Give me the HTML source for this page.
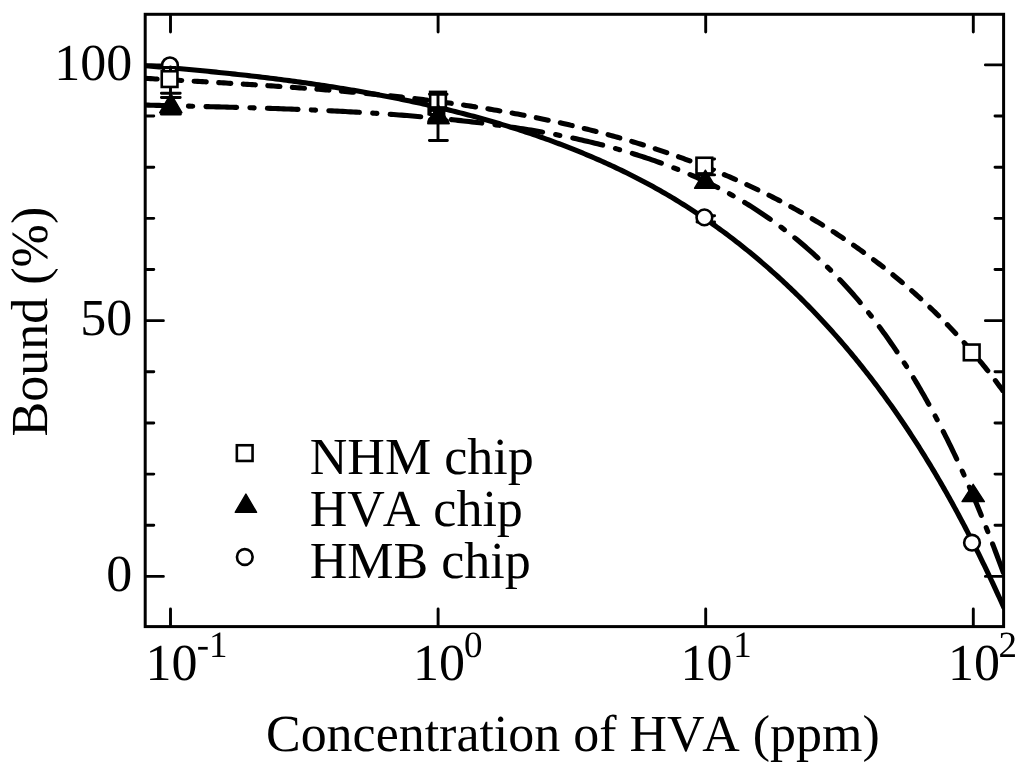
<!DOCTYPE html>
<html><head><meta charset="utf-8"><title>Bound vs concentration</title>
<style>html,body{margin:0;padding:0;background:#fff;width:1024px;height:777px;overflow:hidden}svg{display:block}</style>
</head><body>
<svg width="1024" height="777" viewBox="0 0 1024 777">
<rect width="1024" height="777" fill="#fff"/>
<defs><clipPath id="c"><rect x="145.2" y="14.3" width="858.4" height="612.3"/></clipPath></defs>
<g clip-path="url(#c)" fill="none" stroke="#000" stroke-width="5.10" stroke-linecap="round" stroke-linejoin="round">
<path d="M142.99,65.47L145.71,65.70L148.42,65.92L151.13,66.15L153.85,66.38L156.56,66.61L159.27,66.84L161.98,67.07L164.69,67.31L167.41,67.54L170.12,67.78L172.83,68.02L175.54,68.26L178.25,68.51L180.96,68.75L183.67,69.00L186.38,69.25L189.09,69.50L191.80,69.76L194.51,70.01L197.22,70.27L199.93,70.53L202.64,70.79L205.35,71.06L208.06,71.32L210.77,71.59L213.47,71.87L216.18,72.14L218.89,72.42L221.60,72.70L224.30,72.98L227.01,73.26L229.72,73.55L232.42,73.84L235.13,74.13L237.83,74.43L240.54,74.73L243.24,75.03L245.94,75.33L248.65,75.64L251.35,75.95L254.05,76.26L256.76,76.58L259.46,76.90L262.16,77.22L264.86,77.55L267.56,77.88L270.26,78.21L272.96,78.55L275.66,78.89L278.36,79.23L281.06,79.57L283.76,79.92L286.45,80.28L289.15,80.63L291.85,80.99L294.54,81.36L297.24,81.73L299.93,82.10L302.63,82.47L305.32,82.85L308.02,83.24L310.71,83.62L313.40,84.01L316.09,84.41L318.78,84.81L321.47,85.21L324.16,85.62L326.85,86.03L329.54,86.44L332.23,86.86L334.92,87.29L337.61,87.72L340.29,88.15L342.98,88.59L345.66,89.03L348.35,89.47L351.03,89.93L353.72,90.38L356.40,90.84L359.08,91.31L361.76,91.77L364.44,92.25L367.12,92.73L369.80,93.21L372.48,93.70L375.16,94.19L377.84,94.69L380.51,95.20L383.19,95.70L385.87,96.22L388.54,96.74L391.21,97.26L393.89,97.79L396.56,98.32L399.23,98.86L401.90,99.41L404.57,99.96L407.23,100.52L409.90,101.08L412.57,101.64L415.23,102.22L417.90,102.79L420.56,103.38L423.22,103.97L425.88,104.56L428.54,105.17L431.19,105.77L433.85,106.39L436.50,107.01L439.16,107.63L441.81,108.26L444.46,108.90L447.11,109.54L449.75,110.19L452.40,110.85L455.04,111.51L457.69,112.18L460.33,112.86L462.96,113.54L465.60,114.23L468.24,114.92L470.87,115.62L473.50,116.33L476.13,117.05L478.76,117.77L481.38,118.50L484.01,119.23L486.63,119.97L489.25,120.72L491.87,121.48L494.48,122.24L497.09,123.01L499.70,123.79L502.31,124.57L504.92,125.36L507.52,126.16L510.12,126.97L512.72,127.78L515.32,128.60L517.91,129.43L520.51,130.27L523.10,131.11L525.68,131.96L528.27,132.82L530.85,133.69L533.43,134.56L536.00,135.44L538.58,136.33L541.15,137.23L543.71,138.14L546.28,139.05L548.84,139.97L551.40,140.90L553.96,141.84L556.51,142.78L559.06,143.74L561.61,144.70L564.15,145.67L566.69,146.65L569.22,147.64L571.76,148.63L574.29,149.64L576.81,150.65L579.33,151.67L581.85,152.70L584.37,153.74L586.88,154.79L589.38,155.85L591.89,156.91L594.38,157.99L596.88,159.07L599.37,160.17L601.85,161.27L604.34,162.38L606.81,163.50L609.28,164.63L611.75,165.77L614.22,166.92L616.67,168.07L619.13,169.24L621.58,170.42L624.02,171.60L626.46,172.80L628.89,174.00L631.32,175.22L633.75,176.44L636.17,177.68L638.58,178.92L640.99,180.17L643.39,181.44L645.79,182.71L648.18,184.00L650.57,185.29L652.95,186.60L655.32,187.91L657.69,189.24L660.05,190.57L662.41,191.92L664.76,193.27L667.11,194.64L669.45,196.01L671.78,197.40L674.11,198.80L676.43,200.21L678.74,201.62L681.05,203.05L683.36,204.49L685.65,205.94L687.94,207.40L690.23,208.87L692.51,210.34L694.78,211.83L697.04,213.33L699.30,214.84L701.55,216.35L703.80,217.88L706.04,219.42L708.28,220.96L710.50,222.52L712.72,224.08L714.94,225.66L717.15,227.24L719.35,228.83L721.55,230.44L723.73,232.05L725.92,233.67L728.09,235.30L730.26,236.94L732.43,238.59L734.58,240.24L736.73,241.91L738.88,243.58L741.01,245.27L743.14,246.96L745.27,248.66L747.38,250.37L749.50,252.09L751.60,253.81L753.70,255.55L755.79,257.29L757.87,259.04L759.95,260.80L762.02,262.57L764.08,264.35L766.14,266.13L768.19,267.93L770.23,269.73L772.27,271.54L774.30,273.35L776.32,275.18L778.34,277.01L780.35,278.85L782.35,280.70L784.35,282.56L786.34,284.42L788.32,286.29L790.29,288.17L792.26,290.06L794.23,291.95L796.18,293.85L798.13,295.76L800.07,297.67L802.00,299.60L803.93,301.53L805.85,303.46L807.77,305.41L809.67,307.36L811.57,309.31L813.47,311.28L815.35,313.25L817.23,315.23L819.11,317.21L820.97,319.20L822.83,321.20L824.68,323.20L826.53,325.21L828.36,327.23L830.19,329.25L832.02,331.28L833.83,333.32L835.64,335.36L837.45,337.41L839.24,339.46L841.03,341.52L842.81,343.59L844.59,345.66L846.36,347.74L848.12,349.82L849.87,351.91L851.62,354.00L853.35,356.10L855.09,358.21L856.81,360.32L858.53,362.44L860.24,364.56L861.94,366.69L863.64,368.82L865.33,370.96L867.01,373.10L868.69,375.25L870.36,377.40L872.02,379.56L873.67,381.72L875.32,383.89L876.96,386.07L878.59,388.24L880.21,390.43L881.83,392.61L883.44,394.81L885.05,397.00L886.64,399.20L888.24,401.41L889.82,403.62L891.40,405.84L892.96,408.06L894.53,410.28L896.08,412.51L897.63,414.74L899.18,416.98L900.71,419.22L902.24,421.47L903.77,423.72L905.28,425.98L906.79,428.23L908.30,430.50L909.79,432.77L911.28,435.04L912.77,437.31L914.25,439.59L915.72,441.88L917.18,444.17L918.64,446.46L920.09,448.76L921.54,451.06L922.98,453.36L924.42,455.67L925.84,457.98L927.27,460.30L928.68,462.61L930.09,464.94L931.50,467.26L932.89,469.60L934.29,471.93L935.67,474.27L937.05,476.61L938.43,478.95L939.80,481.30L941.16,483.65L942.52,486.01L943.87,488.37L945.22,490.73L946.56,493.10L947.89,495.47L949.22,497.84L950.54,500.21L951.86,502.59L953.18,504.97L954.48,507.36L955.79,509.75L957.08,512.14L958.37,514.53L959.66,516.93L960.94,519.33L962.22,521.74L963.49,524.14L964.75,526.55L966.01,528.96L967.27,531.38L968.52,533.80L969.76,536.22L971.00,538.64L972.24,541.07L973.47,543.50L974.69,545.93L975.91,548.36L977.13,550.80L978.34,553.24L979.54,555.68L980.74,558.13L981.94,560.57L983.13,563.02L984.32,565.48L985.50,567.93L986.68,570.39L987.85,572.84L989.02,575.31L990.18,577.77L991.34,580.24L992.50,582.70L993.65,585.17L994.79,587.65L995.94,590.12L997.07,592.60L998.21,595.07L999.34,597.55L1000.46,600.04L1001.58,602.52L1002.70,605.01L1003.81,607.50"/>
<path d="M143.49,78.24L145.83,78.38L148.18,78.51L150.53,78.65L152.87,78.79L155.22,78.93L157.57,79.07L159.92,79.21L162.28,79.34L164.63,79.48L166.98,79.62L169.34,79.75L171.69,79.89L174.05,80.03L176.40,80.16L178.76,80.30L181.12,80.44L183.48,80.57L185.84,80.71L188.20,80.85L190.56,80.98L192.92,81.12L195.28,81.26L197.64,81.39L200.01,81.53L202.37,81.67L204.73,81.81L207.10,81.94L209.47,82.08L211.83,82.22L214.20,82.36L216.57,82.50L218.93,82.64L221.30,82.78L223.67,82.92L226.04,83.06L228.41,83.20L230.78,83.35L233.15,83.49L235.52,83.63L237.90,83.78L240.27,83.92L242.64,84.07L245.01,84.22L247.39,84.36L249.76,84.51L252.14,84.66L254.51,84.81L256.89,84.96L259.26,85.12L261.64,85.27L264.01,85.42L266.39,85.58L268.77,85.74L271.14,85.89L273.52,86.05L275.90,86.21L278.28,86.37L280.65,86.53L283.03,86.70L285.41,86.86L287.79,87.03L290.17,87.20L292.55,87.36L294.93,87.53L297.31,87.71L299.69,87.88L302.07,88.05L304.45,88.23L306.83,88.41L309.21,88.59L311.59,88.77L313.97,88.95L316.35,89.13L318.73,89.32L321.11,89.51L323.49,89.70L325.87,89.89L328.25,90.08L330.63,90.28L333.01,90.47L335.39,90.67L337.77,90.87L340.15,91.07L342.53,91.28L344.91,91.49L347.29,91.69L349.67,91.91L352.05,92.12L354.43,92.33L356.81,92.55L359.19,92.77L361.57,92.99L363.95,93.22L366.33,93.44L368.71,93.67L371.08,93.90L373.46,94.14L375.84,94.37L378.22,94.61L380.60,94.85L382.97,95.09L385.35,95.34L387.73,95.59L390.11,95.84L392.48,96.09L394.86,96.35L397.23,96.61L399.61,96.87L401.98,97.13L404.36,97.40L406.73,97.67L409.11,97.94L411.48,98.22L413.85,98.50L416.23,98.78L418.60,99.07L420.97,99.35L423.34,99.64L425.71,99.94L428.08,100.23L430.45,100.53L432.82,100.84L435.19,101.14L437.56,101.45L439.93,101.77L442.29,102.08L444.66,102.40L447.03,102.72L449.39,103.05L451.76,103.38L454.12,103.71L456.49,104.05L458.85,104.39L461.21,104.73L463.57,105.08L465.94,105.43L468.30,105.78L470.66,106.14L473.02,106.50L475.37,106.86L477.73,107.23L480.09,107.60L482.45,107.98L484.80,108.36L487.16,108.74L489.51,109.13L491.86,109.52L494.22,109.92L496.57,110.32L498.92,110.72L501.27,111.13L503.62,111.54L505.97,111.95L508.31,112.37L510.66,112.80L513.00,113.22L515.35,113.66L517.69,114.09L520.04,114.53L522.38,114.98L524.72,115.43L527.06,115.88L529.40,116.34L531.74,116.80L534.07,117.26L536.41,117.74L538.74,118.21L541.08,118.69L543.41,119.18L545.74,119.66L548.07,120.16L550.40,120.66L552.73,121.16L555.06,121.67L557.39,122.18L559.71,122.70L562.04,123.22L564.36,123.75L566.68,124.28L569.00,124.81L571.32,125.36L573.64,125.90L575.96,126.45L578.27,127.01L580.59,127.57L582.90,128.14L585.21,128.71L587.53,129.29L589.84,129.87L592.14,130.45L594.45,131.05L596.76,131.64L599.06,132.25L601.36,132.85L603.67,133.47L605.97,134.09L608.27,134.71L610.56,135.34L612.86,135.98L615.16,136.62L617.45,137.26L619.74,137.91L622.03,138.57L624.32,139.23L626.61,139.90L628.89,140.57L631.18,141.25L633.46,141.94L635.74,142.63L638.02,143.32L640.30,144.03L642.58,144.73L644.85,145.45L647.12,146.17L649.39,146.89L651.66,147.62L653.93,148.36L656.19,149.10L658.46,149.85L660.72,150.60L662.98,151.36L665.23,152.13L667.49,152.90L669.74,153.67L671.99,154.46L674.24,155.25L676.48,156.04L678.73,156.84L680.97,157.65L683.21,158.46L685.45,159.28L687.68,160.10L689.91,160.93L692.14,161.77L694.37,162.61L696.60,163.46L698.82,164.32L701.04,165.18L703.25,166.05L705.47,166.92L707.68,167.80L709.89,168.68L712.10,169.58L714.30,170.47L716.50,171.38L718.70,172.29L720.90,173.21L723.09,174.13L725.28,175.06L727.47,175.99L729.65,176.94L731.83,177.89L734.01,178.84L736.18,179.80L738.35,180.77L740.52,181.74L742.69,182.72L744.85,183.71L747.01,184.70L749.17,185.70L751.32,186.71L753.47,187.72L755.62,188.74L757.76,189.77L759.90,190.80L762.04,191.84L764.17,192.88L766.30,193.94L768.42,195.00L770.55,196.06L772.66,197.13L774.78,198.21L776.89,199.30L779.00,200.39L781.10,201.49L783.20,202.59L785.30,203.71L787.39,204.83L789.48,205.95L791.57,207.08L793.65,208.22L795.73,209.37L797.80,210.52L799.87,211.68L801.94,212.85L804.00,214.02L806.06,215.21L808.11,216.39L810.16,217.59L812.21,218.79L814.25,220.00L816.29,221.21L818.32,222.44L820.35,223.67L822.37,224.90L824.40,226.15L826.41,227.40L828.42,228.66L830.43,229.92L832.43,231.19L834.43,232.47L836.43,233.76L838.41,235.05L840.40,236.35L842.38,237.66L844.36,238.98L846.33,240.30L848.29,241.63L850.25,242.97L852.21,244.31L854.16,245.66L856.11,247.02L858.05,248.39L859.99,249.76L861.92,251.14L863.85,252.53L865.78,253.92L867.69,255.32L869.61,256.73L871.52,258.15L873.42,259.57L875.32,261.00L877.21,262.44L879.10,263.88L880.98,265.33L882.86,266.79L884.73,268.26L886.60,269.73L888.46,271.21L890.32,272.70L892.17,274.19L894.01,275.69L895.85,277.20L897.69,278.72L899.52,280.24L901.34,281.77L903.16,283.31L904.97,284.85L906.78,286.40L908.58,287.96L910.38,289.52L912.17,291.10L913.96,292.68L915.74,294.26L917.51,295.86L919.28,297.46L921.04,299.06L922.80,300.68L924.55,302.30L926.29,303.93L928.03,305.56L929.76,307.21L931.49,308.86L933.21,310.51L934.93,312.18L936.63,313.85L938.34,315.52L940.03,317.21L941.72,318.90L943.41,320.60L945.09,322.30L946.76,324.02L948.42,325.74L950.08,327.46L951.74,329.20L953.38,330.94L955.03,332.69L956.66,334.44L958.29,336.20L959.91,337.97L961.52,339.75L963.13,341.53L964.73,343.32L966.33,345.11L967.92,346.92L969.50,348.73L971.07,350.55L972.64,352.37L974.21,354.20L975.76,356.04L977.31,357.88L978.85,359.74L980.39,361.59L981.91,363.46L983.44,365.33L984.95,367.21L986.46,369.10L987.96,370.99L989.45,372.89L990.94,374.80L992.42,376.71L993.89,378.63L995.36,380.56L996.81,382.50L998.26,384.44L999.71,386.39L1001.15,388.34L1002.57,390.31L1004.00,392.27" stroke-dasharray="12.2 12.4" stroke-dashoffset="-1.50"/>
<path d="M142.71,104.97L145.45,105.05L148.20,105.12L150.94,105.19L153.67,105.26L156.41,105.33L159.14,105.40L161.88,105.48L164.61,105.54L167.34,105.61L170.07,105.68L172.79,105.75L175.52,105.82L178.24,105.89L180.97,105.96L183.69,106.02L186.41,106.09L189.13,106.16L191.85,106.23L194.56,106.30L197.28,106.36L199.99,106.43L202.70,106.50L205.41,106.57L208.12,106.64L210.83,106.71L213.54,106.78L216.25,106.85L218.95,106.92L221.66,106.99L224.36,107.06L227.06,107.13L229.77,107.20L232.47,107.27L235.17,107.35L237.86,107.42L240.56,107.50L243.26,107.57L245.95,107.65L248.65,107.73L251.34,107.81L254.04,107.89L256.73,107.97L259.42,108.05L262.11,108.14L264.80,108.22L267.49,108.31L270.18,108.39L272.87,108.48L275.56,108.57L278.25,108.66L280.94,108.76L283.62,108.85L286.31,108.95L288.99,109.04L291.68,109.14L294.36,109.24L297.05,109.35L299.73,109.45L302.41,109.56L305.10,109.66L307.78,109.77L310.46,109.89L313.14,110.00L315.82,110.11L318.51,110.23L321.19,110.35L323.87,110.47L326.55,110.60L329.23,110.73L331.91,110.85L334.59,110.99L337.27,111.12L339.95,111.26L342.63,111.39L345.31,111.54L347.99,111.68L350.67,111.83L353.35,111.98L356.03,112.13L358.71,112.28L361.39,112.44L364.07,112.60L366.75,112.76L369.43,112.93L372.11,113.10L374.80,113.27L377.48,113.44L380.16,113.62L382.84,113.80L385.52,113.99L388.21,114.18L390.89,114.37L393.57,114.56L396.26,114.76L398.94,114.96L401.63,115.16L404.31,115.37L407.00,115.58L409.68,115.80L412.37,116.02L415.06,116.24L417.74,116.47L420.43,116.70L423.12,116.93L425.81,117.17L428.50,117.41L431.19,117.65L433.89,117.90L436.58,118.16L439.27,118.42L441.97,118.68L444.66,118.94L447.36,119.21L450.05,119.49L452.75,119.77L455.45,120.05L458.15,120.34L460.85,120.63L463.55,120.93L466.25,121.23L468.95,121.53L471.65,121.85L474.35,122.16L477.05,122.48L479.76,122.81L482.46,123.14L485.16,123.48L487.86,123.82L490.56,124.17L493.27,124.53L495.97,124.89L498.67,125.25L501.37,125.63L504.07,126.00L506.77,126.39L509.46,126.78L512.16,127.18L514.86,127.58L517.55,127.99L520.25,128.41L522.94,128.83L525.63,129.26L528.33,129.70L531.01,130.14L533.70,130.59L536.39,131.05L539.07,131.52L541.76,131.99L544.44,132.47L547.12,132.96L549.80,133.46L552.47,133.96L555.15,134.47L557.82,134.99L560.49,135.52L563.16,136.06L565.82,136.60L568.48,137.15L571.14,137.72L573.80,138.29L576.46,138.86L579.11,139.45L581.76,140.05L584.40,140.65L587.05,141.27L589.69,141.89L592.32,142.52L594.96,143.16L597.59,143.81L600.22,144.47L602.84,145.14L605.46,145.82L608.08,146.51L610.69,147.21L613.30,147.92L615.90,148.64L618.51,149.37L621.10,150.11L623.70,150.86L626.29,151.62L628.87,152.39L631.45,153.17L634.03,153.97L636.60,154.77L639.17,155.58L641.73,156.41L644.29,157.24L646.84,158.09L649.39,158.95L651.94,159.82L654.48,160.70L657.01,161.60L659.54,162.50L662.06,163.42L664.58,164.34L667.09,165.28L669.60,166.24L672.10,167.20L674.60,168.18L677.09,169.17L679.57,170.17L682.05,171.18L684.53,172.21L686.99,173.25L689.45,174.30L691.91,175.37L694.36,176.44L696.80,177.53L699.24,178.64L701.67,179.76L704.09,180.89L706.50,182.03L708.91,183.19L711.32,184.36L713.71,185.55L716.10,186.74L718.49,187.96L720.86,189.18L723.23,190.43L725.59,191.68L727.94,192.95L730.29,194.23L732.63,195.53L734.96,196.85L737.28,198.17L739.60,199.52L741.91,200.87L744.21,202.25L746.50,203.63L748.78,205.04L751.06,206.45L753.33,207.89L755.59,209.33L757.84,210.80L760.08,212.28L762.32,213.77L764.54,215.28L766.76,216.80L768.97,218.33L771.17,219.88L773.36,221.45L775.55,223.03L777.72,224.62L779.89,226.23L782.04,227.85L784.19,229.48L786.33,231.13L788.46,232.79L790.58,234.46L792.69,236.15L794.79,237.85L796.88,239.56L798.97,241.29L801.04,243.03L803.10,244.78L805.16,246.54L807.20,248.31L809.24,250.10L811.26,251.90L813.27,253.71L815.28,255.54L817.27,257.37L819.26,259.22L821.23,261.07L823.20,262.94L825.15,264.82L827.09,266.72L829.03,268.62L830.95,270.53L832.86,272.46L834.76,274.39L836.65,276.34L838.53,278.29L840.40,280.26L842.26,282.23L844.11,284.22L845.94,286.22L847.77,288.22L849.58,290.24L851.39,292.26L853.18,294.30L854.96,296.34L856.73,298.40L858.48,300.46L860.23,302.53L861.97,304.61L863.69,306.70L865.40,308.80L867.10,310.90L868.79,313.02L870.47,315.14L872.13,317.27L873.79,319.41L875.44,321.56L877.07,323.71L878.69,325.88L880.31,328.05L881.91,330.22L883.50,332.41L885.08,334.60L886.66,336.80L888.22,339.01L889.77,341.22L891.31,343.44L892.84,345.67L894.36,347.90L895.88,350.14L897.38,352.38L898.87,354.64L900.36,356.89L901.83,359.16L903.30,361.43L904.75,363.70L906.20,365.98L907.64,368.27L909.07,370.56L910.49,372.85L911.90,375.16L913.31,377.46L914.70,379.77L916.09,382.09L917.47,384.41L918.84,386.73L920.20,389.06L921.55,391.40L922.90,393.74L924.24,396.08L925.57,398.43L926.89,400.78L928.20,403.14L929.51,405.50L930.81,407.86L932.10,410.23L933.38,412.60L934.66,414.98L935.93,417.36L937.19,419.75L938.44,422.13L939.69,424.53L940.93,426.92L942.16,429.32L943.39,431.73L944.60,434.13L945.81,436.54L947.02,438.96L948.22,441.38L949.41,443.80L950.59,446.22L951.77,448.65L952.94,451.08L954.10,453.52L955.26,455.96L956.41,458.40L957.56,460.84L958.70,463.29L959.83,465.74L960.95,468.19L962.07,470.65L963.19,473.11L964.30,475.57L965.40,478.03L966.50,480.50L967.59,482.97L968.67,485.44L969.75,487.92L970.83,490.39L971.89,492.87L972.96,495.36L974.01,497.84L975.07,500.33L976.11,502.82L977.16,505.31L978.19,507.80L979.22,510.30L980.25,512.79L981.27,515.29L982.29,517.80L983.30,520.30L984.31,522.80L985.31,525.31L986.31,527.82L987.30,530.33L988.29,532.84L989.27,535.36L990.25,537.87L991.23,540.39L992.20,542.91L993.17,545.43L994.13,547.95L995.09,550.47L996.04,552.99L996.99,555.52L997.94,558.05L998.88,560.57L999.82,563.10L1000.76,565.63L1001.69,568.16L1002.62,570.69L1003.54,573.22" stroke-dasharray="30.65 13.25 4.3 13.25" stroke-dashoffset="-1.85"/>
</g>
<g fill="none" stroke="#000" stroke-width="2.90" stroke-linecap="round">
<path d="M170.5,625.2V608.9M170.5,15.7V32.0M438.1,625.2V608.9M438.1,15.7V32.0M705.7,625.2V608.9M705.7,15.7V32.0M973.3,625.2V608.9M973.3,15.7V32.0M146.6,576.40H163.4M1002.2,576.40H985.4M146.6,525.25H153.8M1002.2,525.25H995.0M146.6,474.10H153.8M1002.2,474.10H995.0M146.6,422.95H153.8M1002.2,422.95H995.0M146.6,371.80H153.8M1002.2,371.80H995.0M146.6,320.65H163.4M1002.2,320.65H985.4M146.6,269.50H153.8M1002.2,269.50H995.0M146.6,218.35H153.8M1002.2,218.35H995.0M146.6,167.20H153.8M1002.2,167.20H995.0M146.6,116.05H153.8M1002.2,116.05H995.0M146.6,64.90H163.4M1002.2,64.90H985.4"/>
</g>
<rect x="145.2" y="14.3" width="858.4" height="612.3" fill="none" stroke="#000" stroke-width="3.00"/>
<circle cx="169.95" cy="65.30" r="7.85" fill="#fff" stroke="#000" stroke-width="2.60"/><path d="M170.50,67.00L170.50,99.00M161.40,93.20L180.20,93.20M161.40,97.50L180.20,97.50" fill="none" stroke="#000" stroke-width="2.90" stroke-linecap="round"/><rect x="161.75" y="71.25" width="15.70" height="15.70" fill="#fff" stroke="#000" stroke-width="2.60"/><rect x="162.8" y="66.0" width="13.7" height="3.1" fill="#000"/><rect x="162.8" y="69.0" width="2.0" height="1.4" fill="#000"/><rect x="174.8" y="69.0" width="1.8" height="1.4" fill="#000"/><rect x="169.1" y="66" width="2.8" height="6" fill="#000"/><path d="M170.80,93.50L181.90,112.70L159.70,112.70Z" fill="#000" stroke="#000" stroke-width="1.4" stroke-linejoin="round"/><path d="M161.50,114.00L180.30,114.00" fill="none" stroke="#000" stroke-width="3.20" stroke-linecap="round"/><rect x="430.15" y="91.90" width="15.70" height="15.70" fill="#fff" stroke="#000" stroke-width="2.60"/><path d="M438.00,94.50L438.00,140.50M429.45,94.30L447.05,94.30M429.40,140.50L447.40,140.50" fill="none" stroke="#000" stroke-width="2.90" stroke-linecap="round"/><path d="M438.60,105.40L449.20,123.60L428.00,123.60Z" fill="#000" stroke="#000" stroke-width="1.4" stroke-linejoin="round"/><path d="M427.4,106.6L446.6,106.6L445.4,112.6L445.4,117.3L448.7,119.5L449.4,124.2L427.2,124.2L427.2,121.5L428.2,118.4L430.4,116.3L427.4,115.2Z" fill="#000"/><circle cx="432.3" cy="112.4" r="0.7" fill="#fff"/><path d="M697.00,159.00L714.60,159.00M697.00,169.50L714.60,169.50M697.00,174.90L714.60,174.90" fill="none" stroke="#000" stroke-width="2.90" stroke-linecap="round"/><rect x="696.50" y="157.75" width="15.70" height="15.70" fill="#fff" stroke="#000" stroke-width="2.60"/><path d="M705.40,170.20L716.20,188.20L694.60,188.20Z" fill="#000" stroke="#000" stroke-width="1.4" stroke-linejoin="round"/><path d="M697.00,215.80L714.60,215.80M697.00,222.00L714.60,222.00" fill="none" stroke="#000" stroke-width="2.90" stroke-linecap="round"/><circle cx="704.40" cy="217.40" r="7.85" fill="#fff" stroke="#000" stroke-width="2.60"/><rect x="963.85" y="344.55" width="15.70" height="15.70" fill="#fff" stroke="#000" stroke-width="2.60"/><path d="M973.20,484.30L984.40,501.60L962.00,501.60Z" fill="#000" stroke="#000" stroke-width="1.4" stroke-linejoin="round"/><circle cx="972.00" cy="542.70" r="7.85" fill="#fff" stroke="#000" stroke-width="2.60"/>
<rect x="236.85" y="445.25" width="15.70" height="15.70" fill="#fff" stroke="#000" stroke-width="2.60"/>
<path d="M245.90,494.00L256.60,512.30L235.20,512.30Z" fill="#000" stroke="#000" stroke-width="1.4" stroke-linejoin="round"/>
<circle cx="244.80" cy="557.00" r="7.85" fill="#fff" stroke="#000" stroke-width="2.60"/>
<g style="font-family:'Liberation Serif','Times New Roman',serif;font-kerning:none;text-rendering:geometricPrecision" fill="#000">
<text x="132.2" y="79.6" font-size="52" text-anchor="end">100</text>
<text x="132.2" y="335.2" font-size="52" text-anchor="end">50</text>
<text x="132.2" y="590.7" font-size="52" text-anchor="end">0</text>
<text x="171.6" y="680.4" font-size="52" text-anchor="middle">10</text>
<text x="196.8" y="656.8" font-size="37">-1</text>
<text x="439.1" y="680.4" font-size="52" text-anchor="middle">10</text>
<text x="464.0" y="656.8" font-size="37">0</text>
<text x="706.5" y="680.4" font-size="52" text-anchor="middle">10</text>
<text x="733.2" y="656.8" font-size="37">1</text>
<text x="973.9" y="680.4" font-size="52" text-anchor="middle">10</text>
<text x="998.6" y="656.8" font-size="37">2</text>
<text x="309.8" y="474.2" font-size="52">NHM chip</text>
<text x="309.8" y="525.6" font-size="52">HV<tspan dx="-2.15">A</tspan> chip</text>
<text x="309.8" y="577.5" font-size="52">HMB chip</text>
<text x="266.0" y="750.6" font-size="51.95">Concentration of HV<tspan dx="-2.15">A</tspan> (ppm)</text>
<text transform="translate(47.4,436.4) rotate(-90)" x="0" y="0" font-size="52">Bound (%)</text>
</g>
</svg>
</body></html>
